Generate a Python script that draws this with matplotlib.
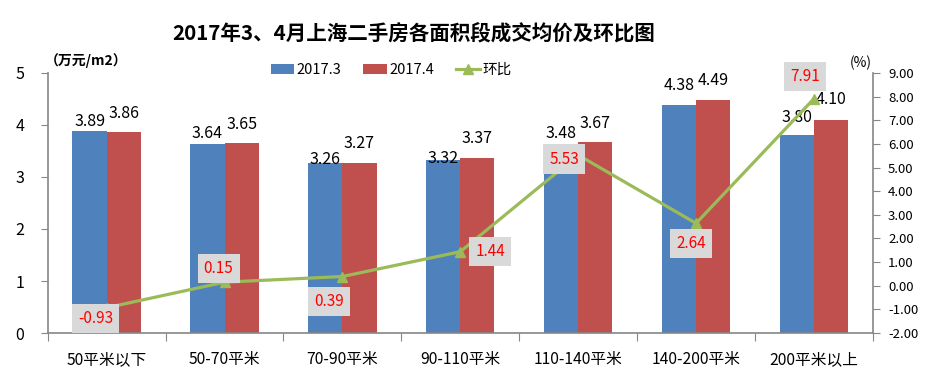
import matplotlib
matplotlib.use('Agg')
import matplotlib.pyplot as plt
import numpy as np

plt.rcParams['font.family'] = ['Noto Sans CJK SC', 'DejaVu Sans']

# data
categories = ['50平米以下', '50-70平米', '70-90平米', '90-110平米',
              '110-140平米', '140-200平米', '200平米以上']
price_mar = [3.89, 3.64, 3.26, 3.32, 3.48, 4.38, 3.80]
price_apr = [3.86, 3.65, 3.27, 3.37, 3.67, 4.49, 4.10]
mom_change = [-0.93, 0.15, 0.39, 1.44, 5.53, 2.64, 7.91]

# label placement (pixels), tuned by eye
mar_lift = [9, 10, 3.5, 1.5, 19, 20, 18]
apr_lift = [19, 19, 19, 19, 19, 19, 20]
mom_offset = [(-11, -11), (-6, 14), (-13, -25), (30, 0), (-14, -4), (-5, -20), (-9, 22)]

BLUE = '#4F81BD'
RED = '#C0504D'
GREEN = '#9BBB59'
AXIS = '#868686'

fig = plt.figure(figsize=(9.25, 3.92), dpi=100)
ax = fig.add_axes([0.0516, 0.1505, 0.892, 0.6633])

x = np.arange(len(categories))
w = 0.29
b1 = ax.bar(x - w / 2, price_mar, w, color=BLUE, label='2017.3', zorder=2)
b2 = ax.bar(x + w / 2, price_apr, w, color=RED, label='2017.4', zorder=2)

for xi, v, dy in zip(x - w / 2, price_mar, mar_lift):
    ax.annotate(f'{v:.2f}', (xi, v), xytext=(0, dy), textcoords='offset pixels',
                ha='center', va='center', fontsize=11.5, color='black')
for xi, v, dy in zip(x + w / 2, price_apr, apr_lift):
    ax.annotate(f'{v:.2f}', (xi, v), xytext=(0, dy), textcoords='offset pixels',
                ha='center', va='center', fontsize=11.5, color='black')

ax.set_xlim(-0.5, len(categories) - 0.5)
ax.set_ylim(0, 5)
ax.set_yticks(range(0, 6))
ax.set_xticks(np.arange(-0.5, len(categories), 1.0))
ax.set_xticklabels([])
ax.set_xticks(x, minor=True)
ax.set_xticklabels(categories, minor=True, fontsize=11.3)
ax.tick_params(axis='x', which='major', length=6, color=AXIS)
ax.tick_params(axis='x', which='minor', length=0, pad=13)
ax.tick_params(axis='y', length=5, color=AXIS, pad=12, labelsize=11.5)
for s in ['top', 'right']:
    ax.spines[s].set_visible(False)
for s in ['left', 'bottom']:
    ax.spines[s].set_color(AXIS)
    ax.spines[s].set_linewidth(1.2)

ax2 = ax.twinx()
ln, = ax2.plot(x, mom_change, color=GREEN, lw=2.3, marker='^', markersize=7,
               label='环比', zorder=3)
ax2.set_ylim(-2, 9)
ax2.set_yticks(np.arange(-2, 10, 1))
ax2.set_yticklabels([f'{t:.2f}' for t in np.arange(-2, 10, 1)])
ax2.tick_params(axis='y', length=5, color=AXIS, pad=6, labelsize=9.5)
for s in ['top', 'left', 'bottom']:
    ax2.spines[s].set_visible(False)
ax2.spines['right'].set_color(AXIS)
ax2.spines['right'].set_linewidth(1.2)

for xi, v, off in zip(x, mom_change, mom_offset):
    ax2.annotate(f'{v:.2f}', (xi, v), xytext=off, textcoords='offset pixels',
                 ha='center', va='center', fontsize=11, color='#FF0000',
                 bbox=dict(boxstyle='square,pad=0.4', fc='#D9D9D9', ec='none'),
                 zorder=5)

fig.text(0.447, 0.916, '2017年3、4月上海二手房各面积段成交均价及环比图',
         ha='center', va='center', fontsize=14.8, fontweight='bold')
fig.text(0.093, 0.845, '（万元/m2）', ha='center', va='center',
         fontsize=10, fontweight='bold')
fig.text(0.931, 0.84, '(%)', ha='center', va='center', fontsize=10)

fig.legend(handles=[b1, b2, ln], loc='center', bbox_to_anchor=(0.423, 0.822),
           ncol=3, frameon=False, fontsize=10.5, handlelength=1.6,
           handletextpad=0.2, columnspacing=1.5, handleheight=0.7)

plt.savefig('out.png', dpi=100)
